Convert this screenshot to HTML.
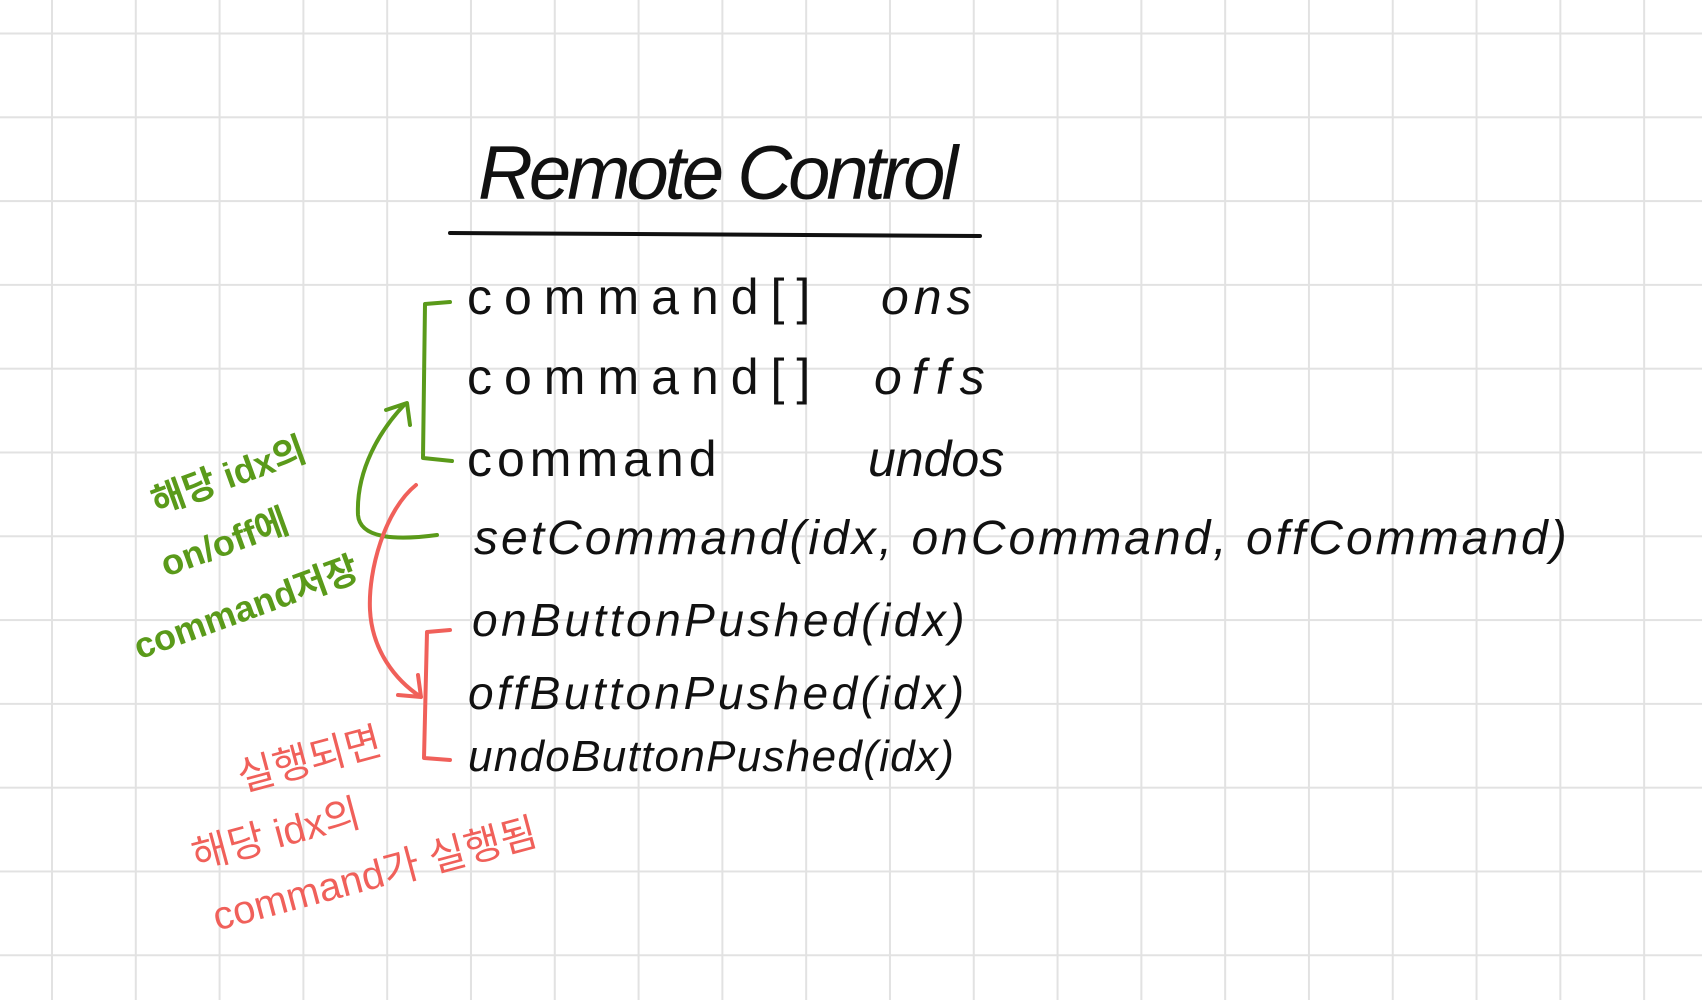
<!DOCTYPE html>
<html><head><meta charset="utf-8"><style>
html,body{margin:0;padding:0;background:#fff}
body{width:1702px;height:1000px;position:relative;overflow:hidden;
background-image:linear-gradient(to right,#e2e2e2 2px,transparent 2px),linear-gradient(to bottom,#e2e2e2 2px,transparent 2px);
background-size:83.8px 83.8px;background-position:51px 32.5px;}
.t{position:absolute;font-family:"Liberation Sans","Noto Sans CJK KR",sans-serif;white-space:nowrap;color:#111;line-height:1}
.g{color:#5a9a1a;font-weight:bold}
.r{color:#f0605a}
</style></head><body>
<div class="t" style="left:478px;top:136px;font-size:76px;font-style:italic;letter-spacing:-4px">Remote Control</div>
<div class="t" style="left:467px;top:272px;font-size:50px;letter-spacing:12px">command[]</div>
<div class="t" style="left:881px;top:272px;font-size:50px;font-style:italic;letter-spacing:5px">ons</div>
<div class="t" style="left:467px;top:352px;font-size:50px;letter-spacing:12px">command[]</div>
<div class="t" style="left:874px;top:352px;font-size:50px;font-style:italic;letter-spacing:10px">offs</div>
<div class="t" style="left:467px;top:434px;font-size:50px;letter-spacing:5px">command</div>
<div class="t" style="left:868px;top:434px;font-size:50px;font-style:italic">undos</div>
<div class="t" style="left:474px;top:515px;font-size:48px;font-style:italic;letter-spacing:3px">setCommand(idx, onCommand, offCommand)</div>
<div class="t" style="left:472px;top:597px;font-size:46px;font-style:italic;letter-spacing:3.5px">onButtonPushed(idx)</div>
<div class="t" style="left:468px;top:670px;font-size:46px;font-style:italic;letter-spacing:3.5px">offButtonPushed(idx)</div>
<div class="t" style="left:468px;top:735px;font-size:44px;font-style:italic;letter-spacing:1.3px">undoButtonPushed(idx)</div>
<svg width="1702" height="1000" style="position:absolute;left:0;top:0" fill="none" stroke-linecap="round" stroke-linejoin="round">
<path d="M450 233 L980 236" stroke="#111" stroke-width="4"/>
<path d="M450 302 L425 304 L423 458 L452 461" stroke="#5a9a1a" stroke-width="4"/>
<path d="M437 535 C400 540 360 540 358 515 C356 470 380 430 405 404 M386 410 L407 403 L410 425" stroke="#5a9a1a" stroke-width="4"/>
<path d="M450 630 L427 632 L424 758 L450 760" stroke="#f0605a" stroke-width="4"/>
<path d="M416 485 C385 510 368 570 370 610 C372 650 395 680 421 697 M398 695 L421 697 L418 675" stroke="#f0605a" stroke-width="4"/>
</svg>
<div class="t g" style="left:148px;top:458px;font-size:36px;transform:rotate(-20deg)">해당 idx의</div>
<div class="t g" style="left:158px;top:525px;font-size:36px;transform:rotate(-20deg)">on/off에</div>
<div class="t g" style="left:128px;top:590px;font-size:36px;transform:rotate(-20deg)">command저장</div>
<div class="t r" style="left:236px;top:740px;font-size:40px;transform:rotate(-15deg)">실행되면</div>
<div class="t r" style="left:190px;top:815px;font-size:40px;transform:rotate(-15deg)">해당 idx의</div>
<div class="t r" style="left:208px;top:855px;font-size:40px;transform:rotate(-15deg)">command가 실행됨</div>
</body></html>
